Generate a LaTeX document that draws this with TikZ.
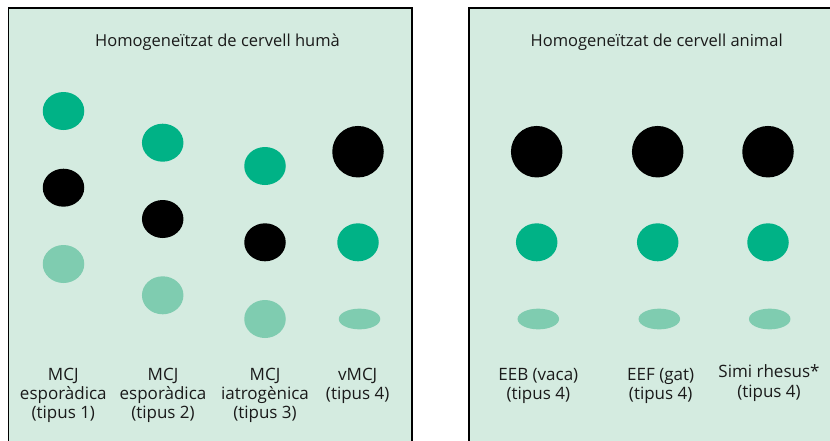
\documentclass[tikz,border=0pt]{standalone}
\usepackage{fontspec}
\setmainfont{Open Sans}
\usetikzlibrary{shapes.geometric}
\definecolor{bgmint}{HTML}{D4EBE0}
\definecolor{dkgreen}{HTML}{00B286}
\definecolor{ltgreen}{HTML}{7FCCB0}
\definecolor{txt}{HTML}{1A1A1A}
\tikzset{
  panel/.style={draw=black, line width=1.3pt, fill=bgmint},
  spot/.style={ellipse, inner sep=0pt, draw=none, minimum width=41.5pt, minimum height=38pt},
  gspot/.style={spot, fill=dkgreen},
  bspot/.style={spot, fill=black},
  lspot/.style={spot, fill=ltgreen},
  bigspot/.style={circle, inner sep=0pt, draw=none, fill=black, minimum size=51.5pt},
  flatspot/.style={ellipse, inner sep=0pt, draw=none, fill=ltgreen, minimum width=41.5pt, minimum height=20.7pt},
  ttl/.style={font=\fontsize{16.5}{19}\selectfont, text=txt, inner sep=0pt},
  lbl/.style={font=\fontsize{17}{19.2}\selectfont, text=txt, align=center, inner sep=0pt},
}
\begin{document}
\begin{tikzpicture}[x=1pt,y=-1pt]
\useasboundingbox (0,0) rectangle (830,440);
\clip (0,0) rectangle (830,440);
% panels
\path[panel] (8.5,8) rectangle (412,460);
\path[panel] (469,8) rectangle (850,460);
% titles
\node[ttl] (t1) at (217.5,42.3) {Homogeneïtzat de cervell humà};
\node[ttl] (t2) at (656.7,42.3) {Homogeneïtzat de cervell animal};
% human column 1
\node[gspot] (h1a) at (63.5,111) {};
\node[bspot] (h1b) at (63.5,187.7) {};
\node[lspot] (h1c) at (63.5,264) {};
% column 2
\node[gspot] (h2a) at (162.7,142.7) {};
\node[bspot] (h2b) at (162.7,219) {};
\node[lspot] (h2c) at (162.7,295.3) {};
% column 3
\node[gspot] (h3a) at (265,166) {};
\node[bspot] (h3b) at (265,242.3) {};
\node[lspot] (h3c) at (265,319) {};
% column 4
\node[bigspot] (h4a) at (358,151.7) {};
\node[gspot] (h4b) at (358,242.3) {};
\node[flatspot] (h4c) at (359.5,319) {};
% animal columns
\node[bigspot] (a1a) at (536.7,151.7) {};
\node[gspot] (a1b) at (536.7,242.3) {};
\node[flatspot] (a1c) at (538.3,319) {};
\node[bigspot] (a2a) at (657.7,151.7) {};
\node[gspot] (a2b) at (657.7,242.3) {};
\node[flatspot] (a2c) at (659.3,319) {};
\node[bigspot] (a3a) at (768,151.7) {};
\node[gspot] (a3b) at (768,242.3) {};
\node[flatspot] (a3c) at (769.7,319) {};
% labels
\node[lbl] (l1) at (63.3,395.5) {MCJ\\esporàdica\\(tipus 1)};
\node[lbl] (l2) at (163,395.5) {MCJ\\esporàdica\\(tipus 2)};
\node[lbl] (l3) at (265,395.5) {MCJ\\iatrogènica\\(tipus 3)};
\node[lbl] (l4) at (357.7,386) {vMCJ\\(tipus 4)};
\node[lbl] (l5) at (538.3,386) {EEB (vaca)\\(tipus 4)};
\node[lbl] (l6) at (660.7,386) {EEF (gat)\\(tipus 4)};
\node[lbl] (l7) at (769,383) {Simi rhesus*\\(tipus 4)};
\end{tikzpicture}
\end{document}
